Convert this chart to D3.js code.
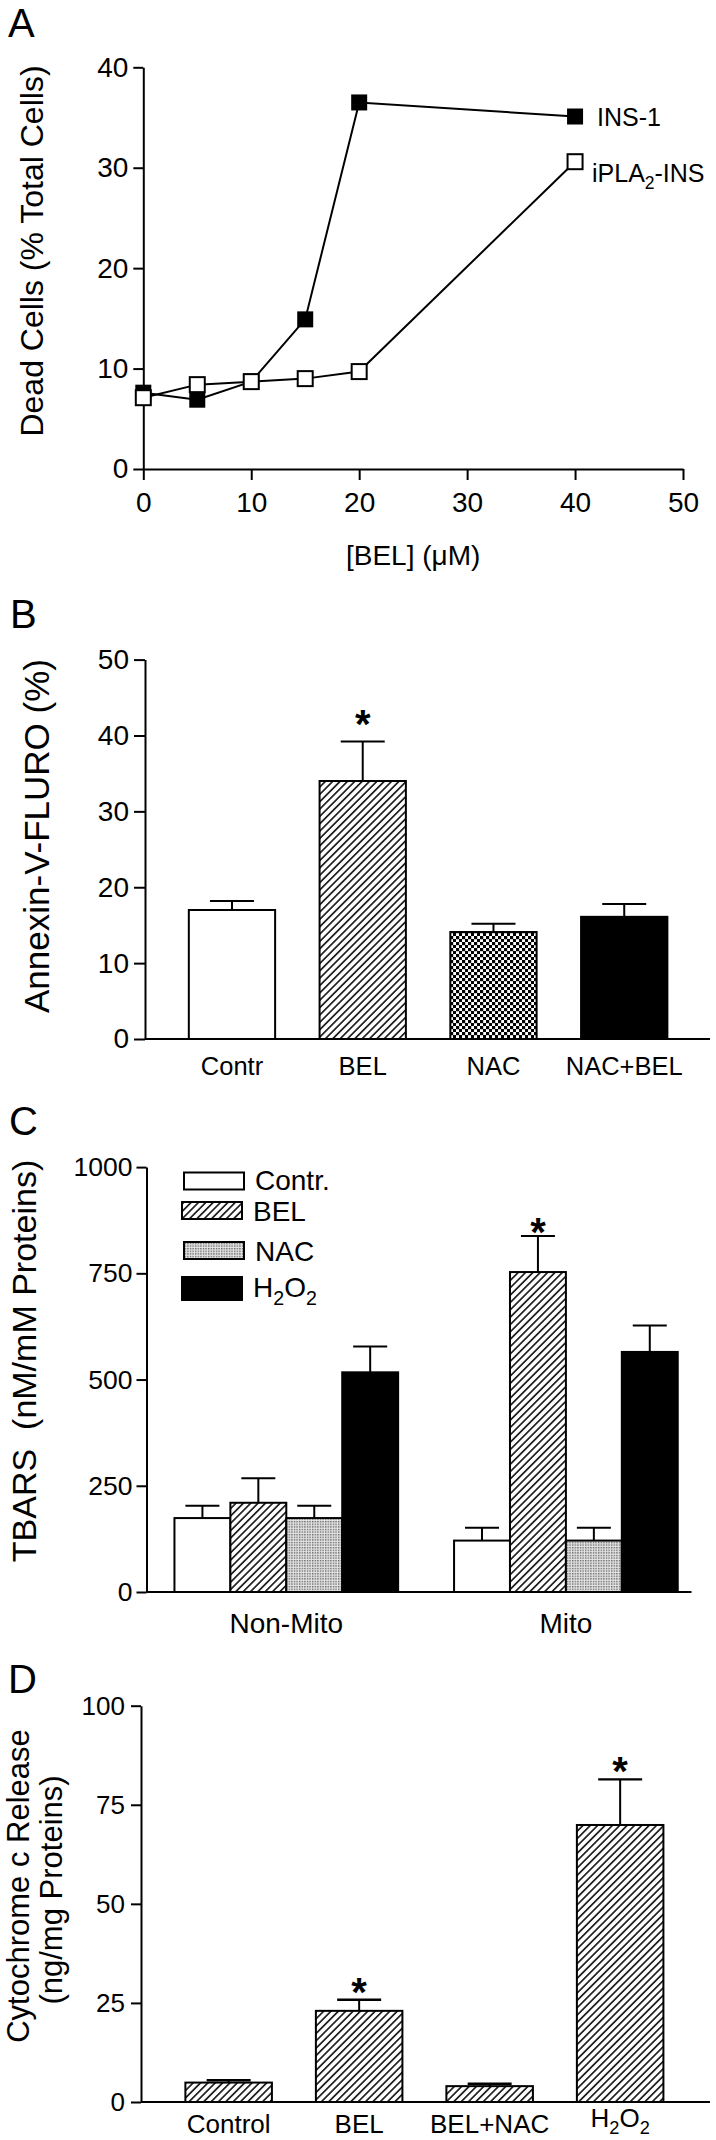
<!DOCTYPE html>
<html><head><meta charset="utf-8">
<script src="https://cdn.jsdelivr.net/npm/d3@7"></script>
<style>
body{margin:0;background:#fff}
svg{display:block}
text{font-family:Arial,"Liberation Sans",Helvetica,sans-serif;fill:#000}
</style></head><body>
<svg id="chart" width="716" height="2140"></svg>
<script>
// ---------- DATA ----------
// Panel A
const concA = [0, 5, 10, 15, 20, 40];
const ins1A = [7.6, 6.9, 8.7, 14.9, 36.5, 35.1];
const iplaA = [7.1, 8.4, 8.7, 9.0, 9.7, 30.6];
const xTicksA = [0, 10, 20, 30, 40, 50];
const yTicksA = [0, 10, 20, 30, 40];
const seriesNamesA = ["INS-1", "iPLA2-INS"];
// Panel B
const catsB = ["Contr", "BEL", "NAC", "NAC+BEL"];
const valsB = [17.0, 34.0, 14.1, 16.1];
const errB = [1.2, 5.2, 1.1, 1.7];
const sigB = [false, true, false, false];
const yTicksB = [0, 10, 20, 30, 40, 50];
// Panel C
const groupsC = ["Non-Mito", "Mito"];
const seriesC = ["Contr.", "BEL", "NAC", "H2O2"];
const nonMitoC = [174, 210, 174, 517];
const nonMitoErrC = [29, 58, 29, 61];
const mitoC = [121, 753, 121, 565];
const mitoErrC = [30, 85, 30, 62];
const sigMitoC = [false, true, false, false];
const yTicksC = [0, 250, 500, 750, 1000];
// Panel D
const catsD = ["Control", "BEL", "BEL+NAC", "H2O2"];
const valsD = [4.9, 23.0, 4.0, 69.9];
const errD = [0.6, 2.8, 0.6, 11.5];
const sigD = [false, true, false, true];
const yTicksD = [0, 25, 50, 75, 100];

// ---------- SETUP ----------
const svg = d3.select("#chart");
const defs = svg.append("defs");
const FONT = 'Arial,"Liberation Sans",Helvetica,sans-serif';
const fmt = d3.format("d");

function makeHatch(id, step) {
  const p = defs.append("pattern").attr("id", id).attr("patternUnits", "userSpaceOnUse")
    .attr("width", step).attr("height", step).attr("patternTransform", "rotate(45)");
  p.append("rect").attr("width", step).attr("height", step).attr("fill", "#fff");
  p.append("line").attr("x1", step / 2).attr("y1", 0).attr("x2", step / 2).attr("y2", step)
    .attr("stroke", "#000").attr("stroke-width", 1.5);
}
makeHatch("hatch", 5.2);
const ck = defs.append("pattern").attr("id", "checker").attr("patternUnits", "userSpaceOnUse")
  .attr("width", 6).attr("height", 6);
ck.append("rect").attr("width", 6).attr("height", 6).attr("fill", "#fff");
ck.append("rect").attr("width", 3.2).attr("height", 3.2).attr("fill", "#000");
ck.append("rect").attr("x", 3).attr("y", 3).attr("width", 3.2).attr("height", 3.2).attr("fill", "#000");
const dt = defs.append("pattern").attr("id", "dots").attr("patternUnits", "userSpaceOnUse")
  .attr("width", 2.6).attr("height", 2.6);
dt.append("rect").attr("width", 2.6).attr("height", 2.6).attr("fill", "#e4e4e4");
dt.append("rect").attr("width", 1.4).attr("height", 1.4).attr("fill", "#6a6a6a");

// text with subscripts for digits following capital letters
function rich(t, str, fs) {
  t.text(null);
  const chars = [...str];
  let buf = "", shifted = false;
  const shift = fs * 0.28;
  chars.forEach((c, i) => {
    const sub = /\d/.test(c) && i > 0 && /[A-Z]/.test(chars[i - 1]);
    if (sub) {
      if (buf) { t.append("tspan").attr("dy", shifted ? -shift : 0).text(buf); shifted = false; buf = ""; }
      t.append("tspan").attr("font-size", fs * 0.7).attr("dy", shifted ? 0 : shift).text(c);
      shifted = true;
    } else {
      buf += c;
    }
  });
  if (buf) t.append("tspan").attr("dy", shifted ? -shift : 0).text(buf);
  return t;
}

function styleAxis(g, fs) {
  g.attr("font-family", FONT).attr("font-size", fs);
  g.selectAll("path,line").attr("stroke", "#000").attr("stroke-width", 2);
  g.selectAll("text").attr("fill", "#000");
}

function panelLetter(letter, x, y) {
  svg.append("text").attr("x", x).attr("y", y).attr("font-size", 40).text(letter);
}
function yTitle(lines, x, cy, fs) {
  lines.forEach((ln, i) => {
    svg.append("text").attr("transform", `translate(${x[i]},${cy[i]}) rotate(-90)`)
      .attr("text-anchor", "middle").attr("font-size", fs).style("white-space", "pre").text(ln);
  });
}
function star(x, cy) {
  svg.append("text").attr("x", x).attr("y", cy + 22).attr("text-anchor", "middle")
    .attr("font-size", 40).attr("font-weight", "bold").text("*");
}

// ---------- PANEL A ----------
panelLetter("A", 8, 37);
const xA = d3.scaleLinear().domain([0, 50]).range([143.3, 683]);
const yA = d3.scaleLinear().domain([0, 40]).range([469, 67.3]);
const axA = svg.append("g").attr("transform", `translate(0,${yA(0)})`)
  .call(d3.axisBottom(xA).tickValues(xTicksA).tickFormat(fmt).tickSize(11).tickSizeOuter(0).tickPadding(12));
styleAxis(axA, 28);
const ayA = svg.append("g").attr("transform", `translate(${xA(0)},0)`)
  .call(d3.axisLeft(yA).tickValues(yTicksA).tickFormat(fmt).tickSize(10).tickSizeOuter(0).tickPadding(5));
styleAxis(ayA, 28);
yTitle(["Dead Cells (% Total Cells)"], [43], [251], 32);
svg.append("text").attr("x", xA(25)).attr("y", 565).attr("text-anchor", "middle")
  .attr("font-size", 28).text("[BEL] (\u03bcM)");

const lineA = d3.line().x((d, i) => xA(concA[i])).y(d => yA(d));
[ins1A, iplaA].forEach(s => {
  svg.append("path").attr("d", lineA(s)).attr("fill", "none").attr("stroke", "#000").attr("stroke-width", 2);
});
svg.append("g").selectAll("rect").data(ins1A).join("rect")
  .attr("x", (d, i) => xA(concA[i]) - 8).attr("y", d => yA(d) - 8)
  .attr("width", 16).attr("height", 16).attr("fill", "#000");
svg.append("g").selectAll("rect").data(iplaA).join("rect")
  .attr("x", (d, i) => xA(concA[i]) - 7.5).attr("y", d => yA(d) - 7.5)
  .attr("width", 15).attr("height", 15).attr("fill", "#fff").attr("stroke", "#000").attr("stroke-width", 2);
rich(svg.append("text").attr("x", 597).attr("y", yA(ins1A[5]) + 9).attr("font-size", 25), seriesNamesA[0], 25);
rich(svg.append("text").attr("x", 592).attr("y", yA(iplaA[5]) + 20).attr("font-size", 25), seriesNamesA[1], 25);

// ---------- PANEL B ----------
panelLetter("B", 10, 628);
const xB = d3.scaleBand().domain(catsB).range([166.6, 689.6]).paddingInner(0.34).paddingOuter(0.17);
const yB = d3.scaleLinear().domain([0, 50]).range([1039, 659.6]);
const fillsB = ["#fff", "url(#hatch)", "url(#checker)", "#000"];
const ayB = svg.append("g").attr("transform", "translate(145,0)")
  .call(d3.axisLeft(yB).tickValues(yTicksB).tickFormat(fmt).tickSize(11).tickSizeOuter(0).tickPadding(5));
styleAxis(ayB, 28);
svg.append("line").attr("x1", 145).attr("x2", 710).attr("y1", yB(0)).attr("y2", yB(0))
  .attr("stroke", "#000").attr("stroke-width", 2);
catsB.forEach((c, i) => {
  const cx = xB(c) + xB.bandwidth() / 2;
  svg.append("line").attr("x1", cx).attr("x2", cx).attr("y1", yB(valsB[i])).attr("y2", yB(valsB[i] + errB[i]))
    .attr("stroke", "#000").attr("stroke-width", 2);
  svg.append("line").attr("x1", cx - 22).attr("x2", cx + 22).attr("y1", yB(valsB[i] + errB[i])).attr("y2", yB(valsB[i] + errB[i]))
    .attr("stroke", "#000").attr("stroke-width", 2);
  svg.append("rect").attr("x", xB(c)).attr("y", yB(valsB[i])).attr("width", xB.bandwidth())
    .attr("height", yB(0) - yB(valsB[i])).attr("fill", fillsB[i]).attr("stroke", "#000").attr("stroke-width", 2);
  svg.append("text").attr("x", cx).attr("y", 1075).attr("text-anchor", "middle").attr("font-size", 25.5).text(c);
  if (sigB[i]) star(cx, yB(valsB[i] + errB[i]) - 26);
});
yTitle(["Annexin-V-FLURO (%)"], [49], [836], 35);

// ---------- PANEL C ----------
panelLetter("C", 9, 1135);
const x0C = d3.scaleBand().domain(groupsC).range([146.5, 705.7]).paddingInner(0.2).paddingOuter(0.1);
const x1C = d3.scaleBand().domain(seriesC).range([0, x0C.bandwidth()]);
const yC = d3.scaleLinear().domain([0, 1000]).range([1592, 1167.1]);
const fillsC = ["#fff", "url(#hatch)", "url(#dots)", "#000"];
const ayC = svg.append("g").attr("transform", "translate(146.5,0)")
  .call(d3.axisLeft(yC).tickValues(yTicksC).tickFormat(fmt).tickSize(10).tickSizeOuter(0).tickPadding(4));
styleAxis(ayC, 26.5);
const dataC = [[nonMitoC, nonMitoErrC, [false, false, false, false]], [mitoC, mitoErrC, sigMitoC]];
groupsC.forEach((g, gi) => {
  const [vals, errs, sigs] = dataC[gi];
  seriesC.forEach((s, si) => {
    const x = x0C(g) + x1C(s);
    const cx = x + x1C.bandwidth() / 2;
    const top = yC(vals[si] + errs[si]);
    svg.append("line").attr("x1", cx).attr("x2", cx).attr("y1", yC(vals[si])).attr("y2", top)
      .attr("stroke", "#000").attr("stroke-width", 2);
    svg.append("line").attr("x1", cx - 17).attr("x2", cx + 17).attr("y1", top).attr("y2", top)
      .attr("stroke", "#000").attr("stroke-width", 2);
    svg.append("rect").attr("x", x).attr("y", yC(vals[si])).attr("width", x1C.bandwidth())
      .attr("height", yC(0) - yC(vals[si])).attr("fill", fillsC[si]).attr("stroke", "#000").attr("stroke-width", 2);
    if (sigs[si]) star(cx, top - 12);
  });
  svg.append("text").attr("x", x0C(g) + x0C.bandwidth() / 2).attr("y", 1633).attr("text-anchor", "middle")
    .attr("font-size", 28).text(g);
});
svg.append("line").attr("x1", 146.5).attr("x2", 691.5).attr("y1", yC(0)).attr("y2", yC(0))
  .attr("stroke", "#000").attr("stroke-width", 2);
// legend
const legBoxX = [184, 182, 184, 182];
const legBoxY = [1172.5, 1202, 1242, 1277];
const legBoxH = [17, 17, 17, 23];
const legTextY = [1190, 1221, 1261, 1297];
seriesC.forEach((s, i) => {
  svg.append("rect").attr("x", legBoxX[i]).attr("y", legBoxY[i]).attr("width", 60).attr("height", legBoxH[i])
    .attr("fill", fillsC[i]).attr("stroke", "#000").attr("stroke-width", 2);
  rich(svg.append("text").attr("x", legBoxX[i] + 71).attr("y", legTextY[i]).attr("font-size", 28), s, 28);
});
yTitle(["TBARS  (nM/mM Proteins)"], [36], [1361], 34);

// ---------- PANEL D ----------
panelLetter("D", 8, 1693);
const xD = d3.scaleBand().domain(catsD).range([163.4, 685.4]).paddingInner(0.337).paddingOuter(0.1685);
const yD = d3.scaleLinear().domain([0, 100]).range([2102, 1705.7]);
const ayD = svg.append("g").attr("transform", "translate(141,0)")
  .call(d3.axisLeft(yD).tickValues(yTicksD).tickFormat(fmt).tickSize(10).tickSizeOuter(0).tickPadding(6));
styleAxis(ayD, 26);
svg.append("line").attr("x1", 141).attr("x2", 710).attr("y1", yD(0)).attr("y2", yD(0))
  .attr("stroke", "#000").attr("stroke-width", 2);
catsD.forEach((c, i) => {
  const cx = xD(c) + xD.bandwidth() / 2;
  const top = yD(valsD[i] + errD[i]);
  svg.append("line").attr("x1", cx).attr("x2", cx).attr("y1", yD(valsD[i])).attr("y2", top)
    .attr("stroke", "#000").attr("stroke-width", 2);
  svg.append("line").attr("x1", cx - 22).attr("x2", cx + 22).attr("y1", top).attr("y2", top)
    .attr("stroke", "#000").attr("stroke-width", 2.4);
  svg.append("rect").attr("x", xD(c)).attr("y", yD(valsD[i])).attr("width", xD.bandwidth())
    .attr("height", yD(0) - yD(valsD[i])).attr("fill", "url(#hatch)").attr("stroke", "#000").attr("stroke-width", 2);
  const hasSub = /[A-Z]\d/.test(c);
  rich(svg.append("text").attr("x", cx).attr("y", hasSub ? 2127 : 2133).attr("text-anchor", "middle")
    .attr("font-size", 26), c, 26);
  if (sigD[i]) star(cx, top - 16);
});
yTitle(["Cytochrome c Release", "(ng/mg Proteins)"], [29, 62], [1886, 1890], 31);
</script>
</body></html>
